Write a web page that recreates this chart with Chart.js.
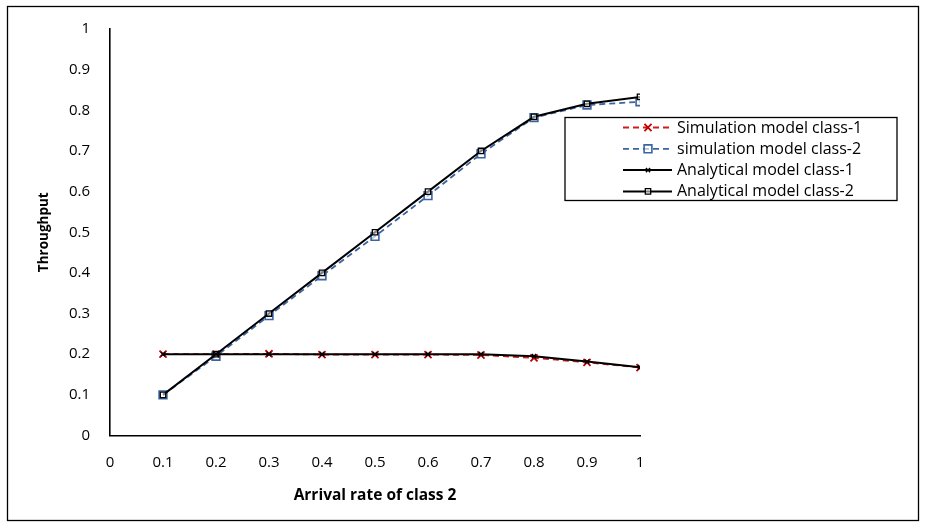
<!DOCTYPE html>
<html>
<head>
<meta charset="utf-8">
<script src="https://cdn.jsdelivr.net/npm/chart.js@4.4.1/dist/chart.umd.min.js"></script>
<style>
  html, body { margin: 0; padding: 0; background: #fff; }
  #wrap { width: 929px; height: 527px; }
</style>
</head>
<body>
<div id="wrap"><canvas id="chart" width="929" height="527"></canvas></div>
<script>
// values
const arrivalRates = [0.1, 0.2, 0.3, 0.4, 0.5, 0.6, 0.7, 0.8, 0.9, 1];
const xTickLabels = ['0', '0.1', '0.2', '0.3', '0.4', '0.5', '0.6', '0.7', '0.8', '0.9', '1'];
const yTickLabels = ['0', '0.1', '0.2', '0.3', '0.4', '0.5', '0.6', '0.7', '0.8', '0.9', '1'];

const simClass1 = [0.2, 0.2, 0.201, 0.199, 0.199, 0.199, 0.198, 0.191, 0.18, 0.167];
const simClass2 = [0.1, 0.195, 0.295, 0.393, 0.49, 0.59, 0.693, 0.782, 0.813, 0.821];
const anaClass1 = [0.2, 0.2, 0.2, 0.2, 0.2, 0.2, 0.2, 0.195, 0.182, 0.168];
const anaClass2 = [0.1, 0.2, 0.3, 0.4, 0.5, 0.6, 0.7, 0.784, 0.816, 0.833];

const seriesNames = [
  'Simulation model class-1',
  'simulation model class-2',
  'Analytical model class-1',
  'Analytical model class-2'
];

const FONT = "'Open Sans', 'DejaVu Sans', sans-serif";

function toPoints(values) {
  return values.map((v, i) => ({ x: arrivalRates[i], y: v }));
}

// whole-chart frame
const framePlugin = {
  id: 'frame',
  beforeDraw(chart) {
    const ctx = chart.ctx;
    ctx.save();
    ctx.fillStyle = '#fff';
    ctx.fillRect(0, 0, chart.width, chart.height);
    ctx.strokeStyle = '#000';
    ctx.lineWidth = 1.3;
    ctx.strokeRect(7.5, 6.5, 911, 514);
    ctx.restore();
  }
};

// boxed legend sitting over the right side of the plot
const boxLegend = {
  id: 'boxLegend',
  afterDraw(chart) {
    const ctx = chart.ctx;
    const box = { x: 565, y: 117.5, w: 332, h: 83 };
    ctx.save();
    ctx.fillStyle = '#fff';
    ctx.fillRect(box.x, box.y, box.w, box.h);
    ctx.strokeStyle = '#000';
    ctx.lineWidth = 1.3;
    ctx.strokeRect(box.x, box.y, box.w, box.h);

    chart.data.datasets.forEach((ds, i) => {
      const y = 127.5 + i * 21.3;
      ctx.save();
      ctx.strokeStyle = ds.borderColor;
      ctx.lineWidth = ds.borderWidth;
      ctx.setLineDash(ds.borderDash || []);
      ctx.beginPath();
      ctx.moveTo(623, y);
      ctx.lineTo(672, y);
      ctx.stroke();
      ctx.setLineDash([]);
      ctx.strokeStyle = ds.pointBorderColor;
      ctx.fillStyle = ds.pointBackgroundColor || '#fff';
      ctx.lineWidth = ds.pointBorderWidth;
      Chart.helpers.drawPoint(ctx, {
        pointStyle: ds.pointStyle,
        radius: ds.pointRadius,
        borderWidth: ds.pointBorderWidth,
        rotation: 0
      }, 648, y);
      ctx.restore();
      ctx.fillStyle = '#000';
      ctx.font = "16px " + FONT;
      ctx.textBaseline = 'middle';
      ctx.textAlign = 'left';
      ctx.fillText(seriesNames[i], 677, y + 0.5);
    });
    ctx.restore();
  }
};

new Chart(document.getElementById('chart'), {
  type: 'line',
  data: {
    datasets: [
      {
        label: seriesNames[0],
        data: toPoints(simClass1),
        borderColor: '#d01c1c',
        borderWidth: 1.8,
        borderDash: [6, 4],
        pointStyle: 'crossRot',
        pointRadius: 5,
        pointBorderWidth: 1.8,
        pointBorderColor: '#c00000',
        pointBackgroundColor: '#c00000',
        order: 2
      },
      {
        label: seriesNames[1],
        data: toPoints(simClass2),
        borderColor: '#3a64a0',
        borderWidth: 1.8,
        borderDash: [6, 4],
        pointStyle: 'rect',
        pointRadius: 5.5,
        pointBorderWidth: 1.6,
        pointBorderColor: '#3a64a0',
        pointBackgroundColor: 'rgba(255,255,255,0.6)',
        order: 3
      },
      {
        label: seriesNames[2],
        data: toPoints(anaClass1),
        borderColor: '#000000',
        borderWidth: 2,
        pointStyle: 'crossRot',
        pointRadius: 3,
        pointBorderWidth: 1.4,
        pointBorderColor: '#000000',
        pointBackgroundColor: '#000000',
        order: 0
      },
      {
        label: seriesNames[3],
        data: toPoints(anaClass2),
        borderColor: '#000000',
        borderWidth: 2,
        pointStyle: 'rect',
        pointRadius: 3.8,
        pointBorderWidth: 1.3,
        pointBorderColor: '#000000',
        pointBackgroundColor: 'rgba(255,255,255,0.5)',
        order: 1
      }
    ]
  },
  options: {
    responsive: false,
    animation: false,
    layout: { padding: { left: 0, top: 23, right: 289, bottom: 0 } },
    plugins: {
      legend: { display: false },
      tooltip: { enabled: false }
    },
    scales: {
      x: {
        type: 'linear',
        min: 0,
        max: 1,
        afterBuildTicks(scale) {
          scale.ticks = xTickLabels.map(t => ({ value: parseFloat(t) }));
        },
        afterFit(scale) { scale.height = 91.5; },
        grid: { display: false, drawTicks: false },
        border: { display: true, color: '#000', width: 1.6 },
        ticks: {
          padding: 18,
          color: '#000',
          font: { family: FONT, size: 15 },
          callback: (v, i) => xTickLabels[i]
        },
        title: {
          display: true,
          text: 'Arrival rate of class 2',
          color: '#000',
          font: { family: FONT, size: 15.5, weight: 'bold' },
          padding: { top: 0, bottom: 22 }
        }
      },
      y: {
        type: 'linear',
        min: 0,
        max: 1,
        afterBuildTicks(scale) {
          scale.ticks = yTickLabels.map(t => ({ value: parseFloat(t) }));
        },
        afterFit(scale) { scale.width = 110; },
        grid: { display: false, drawTicks: false },
        border: { display: true, color: '#000', width: 1.6 },
        ticks: {
          padding: 20,
          color: '#000',
          font: { family: FONT, size: 15 },
          callback: (v, i) => yTickLabels[i]
        },
        title: {
          display: true,
          text: 'Throughput',
          color: '#000',
          font: { family: FONT, size: 13.5, weight: 'bold' },
          padding: { top: 36, bottom: 0 }
        }
      }
    }
  },
  plugins: [framePlugin, boxLegend]
});
</script>
</body>
</html>
